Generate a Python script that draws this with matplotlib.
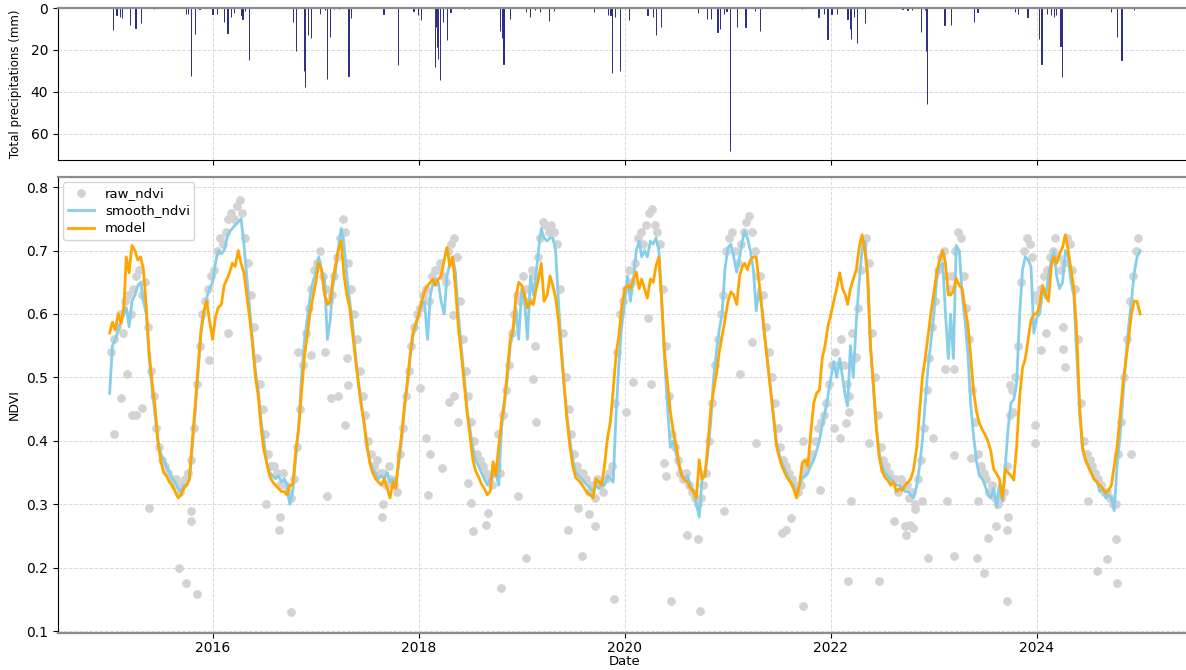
import numpy as np
import pandas as pd
import matplotlib
matplotlib.use("Agg")
import matplotlib.pyplot as plt

# daily precipitation events (mm), everything else is 0
precip_dates = [
    "2015-01-12", "2015-01-25", "2015-02-06", "2015-02-15", "2015-03-14", "2015-04-03", "2015-04-23",
    "2015-06-08", "2015-09-30", "2015-10-07", "2015-10-16", "2015-10-30", "2015-11-16",
    "2016-01-01", "2016-01-17", "2016-02-11", "2016-02-23", "2016-03-05", "2016-03-18", "2016-04-12",
    "2016-04-16", "2016-04-26", "2016-05-08", "2016-10-11", "2016-10-23", "2016-11-19", "2016-11-23",
    "2016-12-04", "2016-12-15", "2017-01-16", "2017-02-02", "2017-02-10", "2017-02-21", "2017-03-06",
    "2017-03-23", "2017-04-27", "2017-05-06", "2017-08-29", "2017-10-18", "2017-12-13", "2017-12-29",
    "2018-01-08", "2018-02-28", "2018-03-04", "2018-03-07", "2018-03-11", "2018-03-16", "2018-03-27",
    "2018-04-10", "2018-04-23", "2018-06-10", "2018-06-28", "2018-10-15", "2018-10-24", "2018-10-28",
    "2018-11-19", "2019-01-17", "2019-01-31", "2019-02-16", "2019-03-06", "2019-04-07", "2019-04-26",
    "2019-09-15", "2019-11-03", "2019-11-11", "2019-11-18", "2019-11-27", "2019-12-16", "2020-01-17",
    "2020-03-22", "2020-04-09", "2020-04-20", "2020-05-09", "2020-09-17", "2020-10-18", "2020-11-01",
    "2020-11-25", "2020-12-04", "2020-12-17", "2020-12-27", "2021-01-07", "2021-02-03", "2021-03-04",
    "2021-04-06", "2021-04-24", "2021-09-20", "2021-11-18", "2021-12-07", "2021-12-20", "2022-01-03",
    "2022-01-22", "2022-03-01", "2022-03-09", "2022-03-14", "2022-03-24", "2022-04-04", "2022-05-02",
    "2022-09-12", "2022-09-29", "2022-10-15", "2022-11-15", "2022-12-01", "2022-12-05", "2022-12-08",
    "2023-02-07", "2023-03-03", "2023-05-23", "2023-06-04", "2023-10-15", "2023-10-26", "2023-11-29",
    "2024-01-08", "2024-01-17", "2024-02-07", "2024-02-20", "2024-03-01", "2024-03-09", "2024-03-25",
    "2024-03-29", "2024-09-19", "2024-10-11", "2024-10-27", "2024-12-11",
]
precip_mm = [
    10.7, 3.5, 4.3, 4.8, 8.3, 9.6, 7.0,
    0.6, 2.7, 2.7, 32.3, 12.3, 0.5,
    2.7, 2.7, 6.7, 11.8, 4.3, 2.2, 3.5,
    5.4, 1.6, 24.8, 6.7, 20.3, 30.0, 37.9,
    13.0, 14.4, 2.7, 1.1, 34.0, 14.0, 0.6,
    0.3, 32.6, 4.8, 2.7, 27.2, 1.6, 3.5,
    5.9, 28.3, 9.0, 18.7, 24.3, 34.2, 6.7,
    15.5, 1.9, 0.3, 0.3, 11.2, 14.4, 26.7,
    5.1, 1.9, 4.3, 1.1, 1.9, 6.4, 1.6,
    1.9, 3.5, 3.5, 31.0, 4.3, 30.0, 5.9,
    3.5, 4.3, 12.8, 9.1, 2.2, 5.1, 5.1,
    11.5, 9.9, 2.7, 1.6, 68.3, 9.1, 9.1,
    1.6, 11.2, 0.6, 4.3, 2.7, 15.0, 2.7,
    2.7, 5.1, 9.9, 14.7, 4.3, 16.6, 7.0,
    0.6, 1.1, 1.1, 11.5, 1.1, 20.3, 45.9,
    8.3, 8.3, 6.7, 1.9, 1.9, 2.7, 4.3,
    14.7, 26.7, 2.7, 3.5, 4.3, 3.5, 17.9,
    33.1, 1.9, 13.9, 24.6, 1.1,
]

# smoothed and modelled NDVI, three values a month (1st, 11th, 21st), one row per year
smooth_ndvi = [
    .475, .55, .56, .575, .59, .60, .61, .58, .62, .63, .645, .65, .62, .60, .53, .48, .44, .40,
    .38, .37, .36, .35, .34, .335, .325, .32, .33, .33, .34, .39, .45, .51, .57, .60, .625, .64,
    .65, .68, .70, .695, .70, .72, .73, .735, .74, .745, .75, .71, .66, .61, .56, .51, .48, .43,
    .40, .365, .35, .345, .34, .345, .335, .34, .33, .30, .32, .37, .42, .50, .555, .59, .625, .65,
    .665, .69, .67, .655, .56, .59, .64, .665, .70, .735, .71, .66, .62, .585, .54, .49, .46, .425,
    .39, .37, .355, .35, .34, .345, .34, .35, .335, .34, .33, .36, .40, .45, .49, .53, .565, .58,
    .60, .615, .62, .56, .63, .65, .655, .65, .62, .60, .66, .68, .69, .665, .60, .545, .50, .45,
    .42, .39, .37, .36, .35, .34, .33, .34, .345, .35, .33, .42, .46, .50, .55, .57, .61, .56,
    .64, .62, .56, .66, .63, .665, .70, .735, .72, .715, .72, .72, .70, .62, .55, .48, .435, .40,
    .37, .35, .345, .34, .335, .33, .325, .32, .33, .325, .33, .33, .345, .34, .335, .44, .52, .58,
    .62, .66, .62, .655, .70, .715, .69, .70, .69, .715, .71, .72, .70, .62, .53, .45, .39, .40,
    .38, .36, .345, .34, .345, .33, .32, .30, .28, .34, .345, .38, .43, .50, .54, .575, .60, .67,
    .705, .71, .69, .666, .69, .715, .73, .72, .70, .67, .605, .64, .61, .565, .525, .48, .44, .40,
    .38, .365, .355, .345, .335, .33, .315, .33, .34, .345, .35, .36, .37, .385, .40, .425, .445, .47,
    .50, .525, .50, .53, .50, .47, .455, .55, .50, .59, .65, .70, .715, .66, .55, .48, .42, .38,
    .36, .35, .345, .34, .335, .33, .33, .325, .32, .32, .315, .31, .33, .36, .40, .46, .515, .555,
    .60, .656, .675, .68, .60, .53, .60, .53, .708, .70, .63, .59, .54, .46, .41, .367, .345, .34,
    .33, .315, .31, .325, .295, .33, .305, .36, .42, .46, .465, .49, .60, .67, .69, .685, .675, .57,
    .595, .60, .64, .625, .66, .685, .70, .66, .64, .65, .70, .69, .65, .63, .54, .44, .385, .37,
    .36, .35, .34, .335, .32, .325, .31, .315, .31, .29, .36, .404, .47, .53, .58, .62, .665, .69,
    .70,
]
model_ndvi = [
    .57, .587, .575, .60, .585, .614, .69, .665, .708, .70, .685, .69, .67, .61, .54, .49, .455, .40,
    .37, .35, .345, .335, .33, .32, .31, .315, .325, .33, .34, .40, .46, .52, .575, .605, .62, .59,
    .56, .595, .61, .615, .645, .655, .665, .68, .675, .70, .68, .665, .63, .595, .555, .50, .47, .42,
    .385, .365, .345, .335, .33, .325, .32, .32, .315, .33, .33, .38, .42, .475, .53, .565, .60, .625,
    .65, .68, .67, .63, .615, .62, .65, .675, .70, .715, .66, .63, .61, .57, .53, .49, .455, .43,
    .395, .365, .35, .34, .335, .33, .34, .325, .31, .335, .325, .37, .41, .455, .49, .535, .57, .585,
    .60, .62, .635, .645, .65, .655, .645, .655, .66, .685, .705, .675, .69, .64, .58, .535, .49, .445,
    .41, .372, .353, .343, .332, .325, .315, .32, .367, .345, .39, .43, .465, .51, .56, .577, .625, .65,
    .645, .63, .61, .62, .615, .64, .655, .68, .62, .63, .66, .645, .625, .59, .54, .485, .43, .39,
    .36, .342, .338, .332, .325, .318, .315, .31, .34, .335, .33, .36, .405, .43, .48, .535, .565, .61,
    .64, .645, .64, .655, .666, .64, .655, .64, .625, .655, .65, .676, .69, .62, .54, .49, .445, .415,
    .394, .365, .345, .338, .335, .325, .32, .31, .37, .34, .345, .39, .45, .48, .505, .54, .565, .59,
    .62, .635, .63, .615, .66, .675, .68, .67, .685, .69, .69, .65, .61, .565, .525, .48, .44, .394,
    .375, .36, .35, .34, .335, .325, .31, .33, .365, .37, .36, .41, .46, .475, .48, .53, .55, .58,
    .60, .62, .64, .665, .64, .63, .615, .64, .655, .67, .705, .725, .70, .66, .55, .485, .42, .375,
    .352, .343, .338, .33, .335, .32, .325, .322, .33, .335, .34, .355, .39, .445, .50, .53, .565, .60,
    .635, .666, .685, .70, .68, .63, .63, .635, .656, .645, .64, .61, .585, .535, .48, .446, .428, .418,
    .41, .40, .385, .355, .348, .34, .31, .355, .35, .345, .338, .39, .47, .515, .53, .56, .59, .60,
    .60, .615, .645, .63, .62, .675, .69, .68, .695, .705, .725, .70, .67, .64, .57, .45, .39, .37,
    .36, .35, .34, .335, .33, .325, .318, .322, .33, .36, .39, .436, .49, .525, .56, .60, .62, .62,
    .60,
]

# raw NDVI observations close to the curve (6th, 16th, 26th of each month)
raw_ndvi = [
    .54, .56, .58, .60, .57, .62, .63, .60, .64, .66, .67, .63, .65, .58, .51, .47, .42, .39,
    .37, .36, .35, .34, .33, .34, .32, .33, .34, .35, .37, .42, .49, .55, .60, .62, .64, .66,
    .67, .70, .72, .71, .73, .75, .76, .75, .77, .78, .76, .72, .68, .63, .58, .53, .49, .45,
    .41, .38, .36, .36, .35, .33, .35, .33, .32, .31, .34, .39, .45, .52, .57, .61, .64, .67,
    .68, .70, .66, .64, .62, .63, .66, .69, .72, .75, .73, .68, .64, .60, .56, .51, .47, .44,
    .40, .38, .36, .37, .35, .35, .33, .36, .34, .33, .32, .38, .42, .47, .51, .55, .58, .60,
    .61, .63, .64, .62, .66, .67, .67, .68, .66, .65, .70, .71, .72, .69, .62, .56, .51, .47,
    .43, .40, .38, .37, .36, .35, .34, .33, .35, .36, .35, .44, .48, .52, .57, .60, .63, .62,
    .66, .64, .62, .67, .66, .69, .72, .745, .74, .73, .74, .73, .71, .64, .57, .50, .45, .41,
    .38, .36, .35, .35, .34, .32, .33, .31, .34, .33, .32, .34, .35, .36, .46, .54, .60, .62,
    .64, .67, .65, .68, .72, .73, .71, .74, .76, .765, .74, .73, .71, .64, .55, .47, .41, .39,
    .37, .35, .34, .35, .33, .32, .31, .30, .31, .33, .35, .40, .46, .52, .56, .60, .63, .70,
    .72, .73, .70, .68, .71, .73, .745, .755, .73, .70, .66, .66, .63, .58, .54, .50, .46, .42,
    .39, .37, .36, .35, .34, .33, .32, .33, .35, .36, .37, .38, .40, .42, .43, .44, .46, .49,
    .52, .54, .52, .56, .52, .49, .47, .57, .53, .61, .67, .71, .72, .68, .57, .50, .44, .39,
    .37, .36, .35, .34, .34, .32, .34, .33, .33, .31, .32, .30, .34, .37, .42, .48, .53, .58,
    .62, .67, .69, .70, .66, .64, .66, .70, .73, .72, .66, .61, .56, .48, .43, .38, .36, .35,
    .34, .32, .33, .31, .30, .31, .32, .36, .44, .48, .50, .55, .65, .70, .72, .71, .69, .63,
    .62, .64, .66, .67, .69, .70, .72, .69, .67, .68, .72, .71, .67, .64, .56, .46, .40, .38,
    .37, .36, .35, .34, .33, .32, .32, .31, .30, .30, .38, .43, .50, .56, .62, .66, .70, .72,
]

# raw NDVI observations far from the curve
outlier_dates = [
    "2015-01-17", "2015-02-10", "2015-03-04", "2015-03-22", "2015-04-03", "2015-04-26", "2015-05-20",
    "2015-09-04", "2015-09-28", "2015-10-16", "2015-10-18", "2015-11-08", "2015-12-19", "2016-02-23",
    "2016-07-10", "2016-08-25", "2016-08-28", "2016-10-04", "2016-10-28", "2016-12-16", "2017-02-01",
    "2017-02-10", "2017-02-25", "2017-03-19", "2017-04-15", "2017-04-25", "2017-04-22",
    "2017-08-22", "2017-08-26", "2018-01-04", "2018-01-28", "2018-02-10", "2018-02-04", "2018-03-25",
    "2018-04-19", "2018-05-07", "2018-05-19", "2018-05-01", "2018-06-23", "2018-07-04", "2018-07-13",
    "2018-08-28", "2018-09-04", "2018-10-07", "2018-10-19", "2018-12-19", "2019-01-16", "2019-02-10",
    "2019-02-22", "2019-02-16", "2019-06-13", "2019-07-19", "2019-08-01", "2019-08-28", "2019-09-16",
    "2019-11-25", "2020-01-07",
    "2020-02-01", "2020-04-04", "2020-03-22", "2020-05-19", "2020-05-25", "2020-06-13", "2020-08-07",
    "2020-09-16", "2020-09-22", "2020-12-19", "2021-02-13", "2021-03-28", "2021-04-10", "2021-07-13",
    "2021-07-25", "2021-08-13", "2021-09-25", "2021-09-25", "2021-11-22", "2022-01-10", "2022-02-01",
    "2022-02-25", "2022-03-07", "2022-03-01", "2022-03-13", "2022-04-01", "2022-05-16", "2022-06-22",
    "2022-08-13", "2022-09-19", "2022-09-25",
    "2022-10-07", "2022-10-19", "2022-10-25", "2022-11-19", "2022-12-10", "2022-12-28", "2023-02-16",
    "2023-03-13", "2023-03-13", "2023-02-10", "2023-03-14", "2023-05-13", "2023-06-01", "2023-06-07",
    "2023-06-28", "2023-07-10", "2023-08-10", "2023-09-16", "2023-09-16", "2023-09-22", "2023-09-28",
    "2023-10-07", "2023-12-25", "2023-12-25", "2024-01-16", "2024-02-04", "2024-04-04", "2024-04-04",
    "2024-04-10", "2024-07-01", "2024-08-01", "2024-09-04", "2024-10-07", "2024-10-10", "2024-12-01",
]
outlier_ndvi = [
    .41, .467, .506, .44, .44, .451, .294,
    .20, .176, .289, .273, .158, .527, .57,
    .30, .26, .28, .13, .54, .535, .54,
    .313, .467, .47, .425, .488, .53,
    .28, .30, .483, .404, .38, .315, .357,
    .462, .47, .43, .598, .333, .302, .258,
    .268, .286, .41, .168, .313, .215, .498,
    .43, .55, .26, .294, .218, .284, .265,
    .15, .446,
    .493, .49, .593, .365, .344, .148, .252,
    .245, .132, .29, .506, .556, .396, .255,
    .26, .279, .40, .14, .323, .42, .404,
    .428, .446, .179, .305, .532, .396, .179,
    .273, .265, .252,
    .268, .263, .292, .305, .216, .404, .305,
    .218, .378, .514, .514, .373, .216, .305,
    .192, .247, .265, .26, .148, .28, .488,
    .446, .425, .396, .543, .57, .58, .545,
    .517, .305, .195, .213, .245, .176, .38,
]

curve_dates = [pd.Timestamp(y, mo, d) for y in range(2015, 2025)
               for mo in range(1, 13) for d in (1, 11, 21)] + [pd.Timestamp(2025, 1, 1)]
raw_dates = [pd.Timestamp(y, mo, d) for y in range(2015, 2025)
             for mo in range(1, 13) for d in (6, 16, 26)]

W, H = 1186, 670
fig = plt.figure(figsize=(W / 100, H / 100), dpi=100)
left = 58 / W
width = (1191.5 - 58) / W
ax1 = fig.add_axes([left, 1 - 160 / H, width, 152 / H])
ax2 = fig.add_axes([left, 1 - 633 / H, width, 456 / H])

grid_kw = dict(color="#d9d9d9", linestyle="--", linewidth=0.7)

# precipitations, hanging from the top
ax1.bar(pd.to_datetime(precip_dates), precip_mm, width=1.0,
        color="#2b2b85", edgecolor="#2b2b85", linewidth=0.7)
ax1.set_ylim(72.5, 0)
ax1.set_yticks([0, 20, 40, 60])
ax1.set_ylabel("Total precipitations (mm)", fontsize=8.5, labelpad=6)
ax1.tick_params(axis="x", labelbottom=False)
ax1.grid(True, **grid_kw)
ax1.set_axisbelow(True)
ax1.spines["top"].set_color("#8c8c8c")
ax1.spines["top"].set_linewidth(1.6)

# NDVI
ax2.scatter(raw_dates, raw_ndvi, s=28, color="lightgray", label="raw_ndvi", zorder=2)
ax2.scatter(pd.to_datetime(outlier_dates), outlier_ndvi, s=28, color="lightgray", zorder=2)
ax2.plot(curve_dates, smooth_ndvi, color="skyblue", linewidth=2, label="smooth_ndvi", zorder=3)
ax2.plot(curve_dates, model_ndvi, color="orange", linewidth=2, label="model", zorder=4)
ax2.set_ylim(0.097, 0.816)
ax2.set_yticks([0.1, 0.2, 0.3, 0.4, 0.5, 0.6, 0.7, 0.8])
ax2.set_ylabel("NDVI", fontsize=9)
ax2.set_xlabel("Date", fontsize=9.5, labelpad=0)
ax2.grid(True, **grid_kw)
ax2.set_axisbelow(True)
for side in ("top", "bottom"):
    ax2.spines[side].set_color("#8c8c8c")
    ax2.spines[side].set_linewidth(1.6)
ax2.legend(loc="upper left", fontsize=9.5, framealpha=0.8, borderpad=0.35,
           labelspacing=0.35, borderaxespad=0.4)

xmin, xmax = pd.Timestamp("2014-07-02"), pd.Timestamp("2025-07-02")
for ax in (ax1, ax2):
    ax.set_xlim(xmin, xmax)
    ax.tick_params(labelsize=10)
ax2.tick_params(axis="x", pad=2)

fig.savefig("out.png", dpi=100)
